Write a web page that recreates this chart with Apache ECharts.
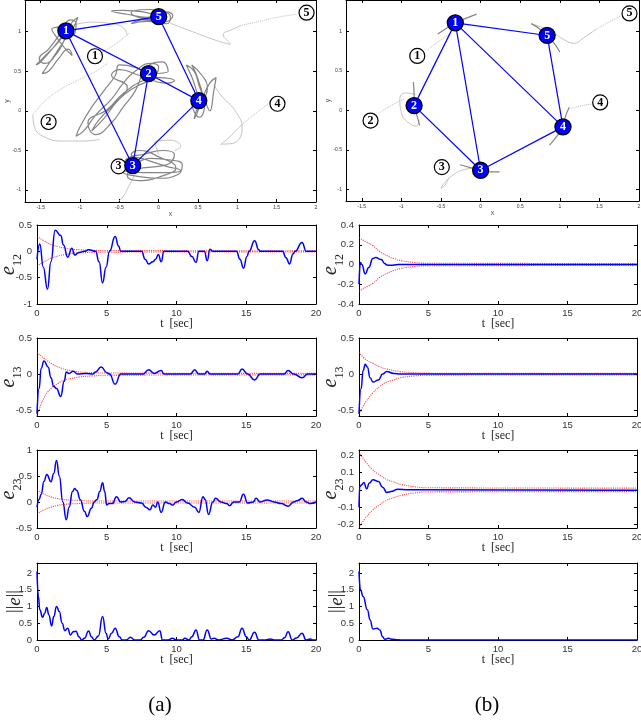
<!DOCTYPE html>
<html>
<head>
<meta charset="utf-8">
<script src="https://cdn.jsdelivr.net/npm/echarts@6/dist/echarts.min.js"></script>
<style>
html,body{margin:0;padding:0;background:#fff;}
#main{width:641px;height:721px;}
</style>
</head>
<body>
<div id="main"></div>
<script>
// tick labels
var xyTicksX = [-1.5, -1, -0.5, 0, 0.5, 1, 1.5, 2];
var xyTicksY = [-1, -0.5, 0, 0.5, 1];
var tTicks = [0, 5, 10, 15, 20];
var e12TicksA = [-1, -0.5, 0, 0.5];
var e12TicksB = [-0.4, -0.2, 0, 0.2, 0.4];
var e13Ticks = [-0.5, 0, 0.5];
var e23TicksA = [-0.5, 0, 0.5, 1];
var e23TicksB = [-0.2, -0.1, 0, 0.1, 0.2];
var normTicks = [0, 0.5, 1, 1.5, 2];

// (a) formation: final positions, start positions, links
var nodesA = [[-1.18, 1.01], [-0.13, 0.47], [-0.33, -0.69], [0.51, 0.13], [0, 1.19]];
var startsA = [[-0.81, 0.69], [-1.40, -0.14], [-0.51, -0.70], [1.51, 0.09], [1.88, 1.24]];
var edgesA = [[1, 5], [1, 2], [1, 3], [2, 4], [2, 3], [3, 4], [5, 4]];
// (b)
var nodesB = [[-0.32, 1.11], [-0.84, 0.06], [0, -0.76], [1.04, -0.21], [0.84, 0.95]];
var startsB = [[-0.80, 0.69], [-1.39, -0.13], [-0.49, -0.72], [1.51, 0.10], [1.88, 1.23]];
var edgesB = [[1, 5], [1, 2], [1, 3], [1, 4], [2, 3], [3, 4], [5, 4]];

// trajectories (a), dark
var trajA1 = [[-1.18,1.01],[-1.3,0.85],[-1.5,0.62],[-1.56,0.58],[-1.42,0.72],[-1.25,0.9],[-1.1,1.12],[-1.03,1.18],[-1.08,1.06],[-1.22,0.86],[-1.38,0.62],[-1.48,0.47],[-1.4,0.5],[-1.28,0.65],[-1.15,0.78],[-1.1,0.7],[-1.2,0.8],[-1.32,0.96],[-1.36,1.03],[-1.22,1.06],[-1.1,0.95],[-1.05,1.1],[-1.12,1.15],[-1.25,0.98],[-1.4,0.78],[-1.52,0.66],[-1.45,0.6],[-1.3,0.72],[-1.2,0.9],[-1.18,1.01]];
var trajA2 = [[-0.13,0.47],[-0.3,0.55],[-0.5,0.58],[-0.55,0.45],[-0.7,0.25],[-0.85,0.05],[-1.0,-0.2],[-1.05,-0.32],[-0.95,-0.25],[-0.8,-0.05],[-0.6,0.15],[-0.45,0.35],[-0.3,0.5],[-0.1,0.6],[0,0.55],[-0.1,0.4],[-0.3,0.3],[-0.5,0.15],[-0.7,-0.1],[-0.85,-0.25],[-0.75,-0.1],[-0.55,0.1],[-0.4,0.3],[-0.6,0.45],[-0.5,0.52],[-0.25,0.45],[0.1,0.35],[0.2,0.38],[0,0.42],[-0.2,0.38],[-0.45,0.22],[-0.65,0.02],[-0.9,-0.15],[-0.8,-0.3],[-0.6,-0.15],[-0.45,0.05],[-0.3,0.25],[-0.15,0.55],[0.05,0.62],[0.12,0.5],[-0.13,0.47]];
var trajA3 = [[-0.33,-0.69],[-0.1,-0.6],[0.15,-0.62],[0.3,-0.68],[0.25,-0.8],[0,-0.85],[-0.3,-0.82],[-0.45,-0.78],[-0.2,-0.72],[0.1,-0.68],[0.2,-0.55],[0.05,-0.5],[-0.2,-0.55],[-0.4,-0.6],[-0.45,-0.7],[-0.2,-0.78],[0.1,-0.78],[0.28,-0.75],[0.1,-0.7],[-0.15,-0.62],[-0.35,-0.55],[-0.25,-0.5],[0.0,-0.58],[0.22,-0.72],[0.05,-0.82],[-0.25,-0.88],[-0.4,-0.82],[-0.33,-0.69]];
var trajA4 = [[0.51,0.13],[0.45,0.35],[0.38,0.52],[0.35,0.58],[0.45,0.5],[0.52,0.3],[0.6,0.1],[0.65,0],[0.7,0.25],[0.73,0.42],[0.65,0.35],[0.55,0.15],[0.48,-0.05],[0.45,-0.1],[0.5,0.05],[0.6,0.2],[0.62,0.3],[0.55,0.45],[0.42,0.58],[0.5,0.4],[0.58,0.05],[0.52,-0.08],[0.42,0.1],[0.51,0.13]];
var trajA5 = [[0,1.19],[-0.2,1.25],[-0.45,1.27],[-0.6,1.26],[-0.4,1.22],[-0.15,1.18],[0.1,1.25],[0.18,1.2],[0.05,1.12],[-0.2,1.15],[-0.35,1.1],[-0.15,1.13],[0.1,1.1],[0.15,1.18],[-0.1,1.28],[-0.35,1.24],[-0.05,1.15],[0,1.19]];
// trajectories (a), light
var lightA1 = [[-1.1,1.08],[-0.85,1.12],[-0.6,1.1],[-0.45,1.05],[-0.4,0.95]];
var lightA2 = [[-1.6,-0.05],[-1.58,-0.2],[-1.45,-0.33],[-1.2,-0.38],[-0.95,-0.38],[-0.75,-0.36]];
var lightA3 = [[-0.3,-0.8],[-0.38,-0.95],[-0.45,-1.08],[-0.52,-1.15]];
var lightA3b = [[0,-0.55],[-0.05,-0.4],[0.15,-0.37],[0.28,-0.45],[0.2,-0.5]];
var lightA4 = [[1.07,-0.16],[0.9,-0.33],[0.79,-0.42],[0.94,-0.41],[1.06,-0.22],[0.98,-0.01],[0.79,0.2],[0.7,0.33]];
var lightA5 = [[1.05,1.08],[0.94,1.03],[0.82,0.96],[0.9,0.86],[0.91,0.84],[0.73,0.89],[0.43,1.0],[0.14,1.11]];
var dotA1 = [[-0.81,0.69],[-0.65,0.78],[-0.5,0.88],[-0.38,0.98]];
var dotA2 = [[-1.6,-0.05],[-1.45,0.12],[-1.25,0.27],[-1.0,0.4],[-0.8,0.5],[-0.65,0.6]];
var dotA4 = [[1.41,0.1],[1.25,-0.02],[1.07,-0.16]];
var dotA5 = [[1.75,1.22],[1.5,1.18],[1.28,1.13],[1.05,1.08]];

// trajectories (b)
var trajB1 = [[-0.54,0.97],[-0.45,1.03],[-0.32,1.11],[-0.18,1.17],[-0.05,1.22]];
var trajB2 = [[-0.85,0.36],[-0.84,0.2],[-0.84,0.06],[-0.8,-0.08],[-0.77,-0.19]];
var trajB3 = [[-0.26,-0.69],[-0.12,-0.73],[0,-0.76],[0.12,-0.78],[0.24,-0.78]];
var trajB4 = [[1.12,0.04],[1.07,-0.08],[1.04,-0.21],[0.96,-0.33],[0.87,-0.44]];
var trajB5 = [[0.64,1.1],[0.75,1.03],[0.84,0.95],[0.93,0.85],[1.0,0.74]];
var lightB2 = [[-0.82,0.2],[-0.95,0.22],[-1.02,0.15],[-1.0,-0.03],[-0.92,-0.15],[-0.81,-0.2],[-0.78,-0.12]];
var lightB3 = [[0,-0.72],[-0.2,-0.75],[-0.35,-0.82],[-0.48,-0.95],[-0.5,-0.99],[-0.45,-0.95],[-0.4,-0.85]];
var lightB5 = [[0.64,1.1],[0.78,1.05],[0.91,0.99],[1.05,0.9],[1.18,0.85],[1.3,0.92],[1.46,1.03]];
var dotB1 = [[-0.68,0.76],[-0.55,0.86],[-0.39,0.97]];
var dotB2 = [[-1.29,-0.04],[-1.15,0.05],[-0.96,0.15]];
var dotB4 = [[1.42,0.08],[1.28,0.06],[1.14,0.02]];
var dotB5 = [[1.46,1.03],[1.62,1.12],[1.77,1.2]];

// errors [t, value]
var e12A = [[0,-0.15],[0.2,0.14],[0.45,-0.3],[0.75,-0.72],[1.0,-0.2],[1.3,0.4],[1.7,0.3],[1.9,0.12],[2.2,-0.11],[2.5,0.06],[2.7,-0.07],[3.0,-0.02],[3.4,0],[3.7,0.03],[4.2,0],[4.45,-0.2],[4.7,-0.6],[4.95,-0.3],[5.2,0],[5.6,0.28],[5.85,0.1],[6.0,0],[7.5,0],[7.75,-0.15],[8.0,-0.24],[8.3,-0.2],[8.5,-0.15],[8.7,-0.06],[8.9,-0.2],[9.1,0],[10.8,0],[11.1,-0.1],[11.4,-0.21],[11.6,0],[12.0,0],[12.2,-0.18],[12.4,0.04],[12.6,0],[14.3,0],[14.55,-0.15],[14.8,-0.32],[15.05,-0.1],[15.2,0],[15.6,0.2],[15.9,0.03],[16.0,0],[17.6,0],[17.85,-0.12],[18.1,-0.24],[18.35,-0.05],[18.5,0],[19.0,0.17],[19.3,0],[20,0]];
var e12B = [[0,-0.2],[0.1,0.02],[0.2,0],[0.45,-0.095],[0.7,-0.03],[1.0,0.06],[1.2,0.072],[1.6,0.05],[1.85,0.01],[2.0,-0.005],[2.3,-0.008],[2.8,0],[20,0]];
var e13A = [[0,-0.55],[0.15,-0.2],[0.3,0.08],[0.5,0.18],[0.8,0.1],[1.0,-0.05],[1.2,-0.17],[1.4,-0.2],[1.7,-0.31],[1.95,-0.1],[2.1,0.03],[2.3,0.01],[2.6,0.04],[2.9,0],[3.5,0.01],[4.0,0],[4.2,0.03],[4.6,0.1],[5.0,0.02],[5.2,0],[5.6,-0.14],[6.0,0],[7.6,0],[8.0,0.06],[8.4,0.01],[8.9,0.05],[9.1,0],[11.0,0],[11.3,0.06],[11.6,0],[12.0,0],[12.2,0.04],[12.4,0],[14.4,0],[14.7,0.07],[15.1,0],[15.6,-0.08],[16.0,0],[17.7,0],[18.0,0.05],[18.4,0],[19.0,-0.05],[19.4,0],[20,0]];
var e13B = [[0,-0.55],[0.15,-0.2],[0.3,0.05],[0.45,0.135],[0.6,0.1],[0.8,-0.05],[1.0,-0.11],[1.4,-0.08],[1.7,0],[2.0,0.035],[2.5,0.01],[3.0,0],[20,0]];
var e23A = [[0,-0.1],[0.15,0.05],[0.3,0.15],[0.5,0.4],[0.7,0.53],[1.0,0.39],[1.2,0.55],[1.4,0.8],[1.6,0.5],[1.85,0],[2.1,-0.34],[2.3,-0.1],[2.55,0.2],[2.7,0.26],[2.85,0.22],[3.1,0.05],[3.4,-0.18],[3.6,-0.28],[3.9,-0.12],[4.1,0],[4.3,0.05],[4.5,0.2],[4.7,0.37],[4.85,0.2],[5.0,-0.06],[5.15,-0.03],[5.4,-0.03],[5.7,0.1],[6.0,0],[6.3,0.01],[6.6,0.08],[7.0,0],[7.5,-0.02],[7.8,-0.1],[8.1,-0.15],[8.3,-0.06],[8.5,-0.1],[8.65,0],[8.9,-0.2],[9.2,0],[9.5,-0.03],[9.7,-0.06],[10.0,0],[10.4,0.05],[10.8,-0.02],[11.3,-0.1],[11.6,-0.2],[11.9,0.1],[12.05,0.05],[12.3,-0.24],[12.6,0],[12.8,0.07],[13.2,0],[13.6,-0.03],[13.8,-0.07],[14.1,0],[14.5,0],[14.8,0.15],[15.1,-0.02],[15.5,0],[15.7,0.07],[16.0,0],[16.5,0.04],[17.0,0],[17.5,-0.03],[18.0,-0.08],[18.4,0],[18.7,0.03],[19.0,0.07],[19.3,0],[19.6,-0.03],[20,0]];
var e23B = [[0,-0.1],[0.05,0.02],[0.2,0.03],[0.35,0.043],[0.55,0.006],[0.75,0.04],[1.0,0.058],[1.4,0.048],[1.7,0.015],[2.0,-0.015],[2.3,-0.01],[2.8,0.004],[3.5,0],[20,-0.002]];
var normA = [[0,2.05],[0.1,1.3],[0.2,0.9],[0.4,0.68],[0.55,0.8],[0.7,0.97],[0.85,0.75],[1.05,0.42],[1.2,0.7],[1.4,1.0],[1.6,0.85],[1.8,0.5],[2.0,0.28],[2.2,0.35],[2.4,0.15],[2.6,0.25],[2.8,0.26],[3.0,0.1],[3.2,0],[3.4,0.05],[3.7,0.27],[3.9,0.1],[4.1,0],[4.4,0.12],[4.7,0.7],[4.95,0.2],[5.1,0.03],[5.35,0.2],[5.6,0.35],[5.9,0.1],[6.1,0],[6.4,0],[6.7,0.08],[7.0,0],[7.4,0],[7.65,0.08],[8.0,0.28],[8.4,0.15],[8.8,0.28],[9.0,0],[9.4,0],[9.7,0.05],[10.0,0],[10.4,0],[10.6,0.05],[10.9,0],[11.1,0.1],[11.4,0.3],[11.65,0],[11.9,0],[12.2,0.3],[12.5,0.03],[12.7,0.05],[13.0,0],[13.6,0.05],[14.0,0],[14.4,0.1],[14.7,0.35],[15.0,0.1],[15.2,0],[15.6,0.23],[15.9,0],[16.4,0],[16.7,0.03],[17.0,0],[17.5,0],[17.75,0.07],[18.0,0.25],[18.3,0],[18.6,0.06],[19.0,0.2],[19.3,0],[19.6,0.03],[19.8,0],[20,0]];
var normB = [[0,2.05],[0.1,1.5],[0.3,1.3],[0.6,0.9],[0.8,0.6],[1.0,0.33],[1.3,0.35],[1.5,0.3],[1.7,0.1],[1.85,0.02],[2.1,0.05],[2.4,0.02],[2.8,0.005],[3.2,0],[20,0]];

// performance bounds [t, value]
var b12AUp = [[0,0.28],[0.5,0.2],[1,0.13],[1.5,0.09],[2,0.06],[2.5,0.04],[3,0.03],[4,0.02],[5,0.015],[20,0.01]];
var b12ALo = [[0,-0.28],[0.5,-0.2],[1,-0.13],[1.5,-0.09],[2,-0.06],[2.5,-0.04],[3,-0.03],[4,-0.02],[5,-0.015],[20,-0.01]];
var b12BUp = [[0,0.27],[0.5,0.23],[1,0.19],[1.5,0.13],[2,0.09],[2.5,0.06],[3,0.04],[4,0.02],[5,0.013],[20,0.01]];
var b12BLo = [[0,-0.27],[0.5,-0.23],[1,-0.19],[1.5,-0.13],[2,-0.09],[2.5,-0.06],[3,-0.04],[4,-0.02],[5,-0.013],[20,-0.01]];
var b13AUp = [[0,0.3],[0.5,0.22],[1,0.15],[1.5,0.1],[2,0.065],[2.5,0.045],[3,0.03],[4,0.02],[5,0.015],[20,0.01]];
var b13ALo = [[0,-0.58],[0.5,-0.33],[1,-0.2],[1.5,-0.13],[2,-0.08],[2.5,-0.06],[3,-0.04],[4,-0.025],[5,-0.015],[20,-0.01]];
var b13BUp = [[0,0.3],[0.5,0.2],[1,0.15],[1.5,0.1],[2,0.07],[3,0.035],[4,0.02],[5,0.013],[20,0.01]];
var b13BLo = [[0,-0.55],[0.5,-0.38],[1,-0.26],[1.5,-0.17],[2,-0.11],[2.5,-0.08],[3,-0.05],[4,-0.025],[5,-0.015],[20,-0.01]];
var b23AUp = [[0,0.23],[0.5,0.15],[1,0.1],[1.5,0.065],[2,0.045],[3,0.03],[4,0.02],[20,0.02]];
var b23ALo = [[0,-0.23],[0.5,-0.15],[1,-0.1],[1.5,-0.065],[2,-0.045],[3,-0.03],[4,-0.02],[20,-0.02]];
var b23BUp = [[0,0.215],[0.5,0.16],[1,0.115],[1.5,0.085],[2,0.06],[2.5,0.045],[3,0.032],[4,0.018],[5,0.012],[20,0.01]];
var b23BLo = [[0,-0.215],[0.5,-0.16],[1,-0.115],[1.5,-0.085],[2,-0.06],[2.5,-0.045],[3,-0.032],[4,-0.018],[5,-0.012],[20,-0.01]];

var myChart = echarts.init(document.getElementById('main'));
var grids = [], xAxes = [], yAxes = [], series = [];
var serif = 'Liberation Serif';

function axis(gi, r, pos, main) {
  return {
    type: 'value', gridIndex: gi, position: pos, min: r.min, max: r.max,
    axisLine: { show: true, onZero: false, lineStyle: { color: '#000', width: 1 } },
    axisTick: { show: true, inside: true, length: r.tick, customValues: r.ticks, lineStyle: { color: '#000', width: 1 } },
    axisLabel: { show: main, customValues: r.ticks, fontSize: r.fs, color: '#333', fontFamily: 'Liberation Sans', margin: r.margin },
    splitLine: { show: false },
    name: main ? r.name : '', nameLocation: 'middle', nameGap: r.gap, nameRotate: r.rot || 0,
    nameMoveOverlap: false, nameTextStyle: r.nameStyle
  };
}
function panel(box, xr, yr) {
  var gi = grids.length;
  grids.push({ left: box[0], top: box[1], width: box[2], height: box[3], containLabel: false, outerBoundsMode: 'none' });
  var p = { x: xAxes.length, y: yAxes.length };
  xAxes.push(axis(gi, xr, 'bottom', true), axis(gi, xr, 'top', false));
  yAxes.push(axis(gi, yr, 'left', true), axis(gi, yr, 'right', false));
  return p;
}
function line(p, data, style, smooth, z) {
  series.push({
    type: 'line', xAxisIndex: p.x, yAxisIndex: p.y, data: data, symbol: 'none',
    smooth: smooth, silent: true, lineStyle: style, z: z
  });
}

// formation plots
var xyName = { fontSize: 7, color: '#555', fontFamily: 'Liberation Sans' };
function formation(box, nodes, starts, edges, dark, light, dots) {
  var p = panel(box,
    { min: -1.7, max: 2, ticks: xyTicksX, tick: 3, fs: 5, margin: 3, name: 'x', gap: 9, nameStyle: xyName },
    { min: -1.15, max: 1.4, ticks: xyTicksY, tick: 3, fs: 5, margin: 4, name: 'y', gap: 14, rot: 90, nameStyle: xyName });
  light.forEach(function (d) { line(p, d, { color: '#c4c4c4', width: 1 }, 0.5, 1); });
  dots.forEach(function (d) { line(p, d, { color: '#bdbdbd', width: 1, type: 'dotted' }, 0.5, 1); });
  dark.forEach(function (d) { line(p, d, { color: '#858585', width: 1.2 }, 0.5, 2); });
  edges.forEach(function (e) {
    line(p, [nodes[e[0] - 1], nodes[e[1] - 1]], { color: '#0000ff', width: 1.2 }, false, 3);
  });
  series.push({
    type: 'scatter', xAxisIndex: p.x, yAxisIndex: p.y, data: starts, symbolSize: 15, silent: true, z: 4,
    itemStyle: { color: '#fff', borderColor: '#000', borderWidth: 1.2, opacity: 1 },
    label: { show: true, position: 'inside', formatter: function (q) { return String(q.dataIndex + 1); },
      color: '#000', fontWeight: 'bold', fontFamily: serif, fontSize: 12 }
  });
  series.push({
    type: 'scatter', xAxisIndex: p.x, yAxisIndex: p.y, data: nodes, symbolSize: 16, silent: true, z: 5,
    itemStyle: { color: '#0000ff', borderColor: '#000', borderWidth: 1.3, opacity: 1 },
    label: { show: true, position: 'inside', formatter: function (q) { return String(q.dataIndex + 1); },
      color: '#fff', fontWeight: 'bold', fontFamily: serif, fontSize: 12 }
  });
}
formation([25, 0, 291, 202], nodesA, startsA, edgesA,
  [trajA1, trajA2, trajA3, trajA4, trajA5],
  [lightA1, lightA2, lightA3, lightA3b, lightA4, lightA5],
  [dotA1, dotA2, dotA4, dotA5]);
formation([346, 0, 293, 201], nodesB, startsB, edgesB,
  [trajB1, trajB2, trajB3, trajB4, trajB5],
  [lightB2, lightB3, lightB5],
  [dotB1, dotB2, dotB4, dotB5]);

// error plots
var tName = { fontSize: 12, color: '#222', fontFamily: serif };
var yRich = {
  e: { fontSize: 20, fontStyle: 'italic', fontFamily: serif, color: '#222', verticalAlign: 'bottom', padding: [0, 0, 5, 0] },
  s: { fontSize: 12, fontFamily: serif, color: '#222', verticalAlign: 'bottom' },
  n: { fontSize: 18, fontFamily: serif, color: '#222' },
  i: { fontSize: 19, fontStyle: 'italic', fontFamily: serif, color: '#222' }
};
function errPanel(box, ymin, ymax, ticks, label, sig, up, lo) {
  var p = panel(box,
    { min: 0, max: 20, ticks: tTicks, tick: 3, fs: 9.5, margin: 4, name: 't  [sec]', gap: 14, nameStyle: tName },
    { min: ymin, max: ymax, ticks: ticks, tick: 3, fs: 9.5, margin: 5, name: label, gap: 13, rot: 90, nameStyle: { rich: yRich } });
  if (up) {
    line(p, up, { color: 'rgba(255,0,0,0.75)', width: 1.1, type: 'dotted' }, 0.5, 2);
    line(p, lo, { color: 'rgba(255,0,0,0.75)', width: 1.1, type: 'dotted' }, 0.5, 2);
  }
  series.push({
    type: 'line', xAxisIndex: p.x, yAxisIndex: p.y, data: sig, symbol: 'none', smooth: 0.5,
    smoothMonotone: 'x', silent: true, z: 3, lineStyle: { color: '#0000ff', width: 1.5 }
  });
}
var L = [37, 279], R = [359, 278];
var rows = [[225, 79], [338, 78], [450, 78], [563, 77]];
var n12 = '{e|e}{s|12}', n13 = '{e|e}{s|13}', n23 = '{e|e}{s|23}', nN = '{n|||}{i|e}{n|||}';
errPanel([L[0], rows[0][0], L[1], rows[0][1]], -1, 0.5, e12TicksA, n12, e12A, b12AUp, b12ALo);
errPanel([R[0], rows[0][0], R[1], rows[0][1]], -0.4, 0.4, e12TicksB, n12, e12B, b12BUp, b12BLo);
errPanel([L[0], rows[1][0], L[1], rows[1][1]], -0.58, 0.5, e13Ticks, n13, e13A, b13AUp, b13ALo);
errPanel([R[0], rows[1][0], R[1], rows[1][1]], -0.58, 0.5, e13Ticks, n13, e13B, b13BUp, b13BLo);
errPanel([L[0], rows[2][0], L[1], rows[2][1]], -0.5, 1, e23TicksA, n23, e23A, b23AUp, b23ALo);
errPanel([R[0], rows[2][0], R[1], rows[2][1]], -0.22, 0.23, e23TicksB, n23, e23B, b23BUp, b23BLo);
errPanel([L[0], rows[3][0], L[1], rows[3][1]], 0, 2.3, normTicks, nN, normA, null, null);
errPanel([R[0], rows[3][0], R[1], rows[3][1]], 0, 2.3, normTicks, nN, normB, null, null);

var option = {
  backgroundColor: '#fff',
  animation: false,
  grid: grids,
  xAxis: xAxes,
  yAxis: yAxes,
  series: series,
  graphic: [
    { type: 'text', x: 160, y: 705, style: { text: '(a)', align: 'center', verticalAlign: 'middle', fontSize: 21, fontFamily: serif, fill: '#000' } },
    { type: 'text', x: 487, y: 705, style: { text: '(b)', align: 'center', verticalAlign: 'middle', fontSize: 21, fontFamily: serif, fill: '#000' } }
  ]
};
myChart.setOption(option);
</script>
</body>
</html>
